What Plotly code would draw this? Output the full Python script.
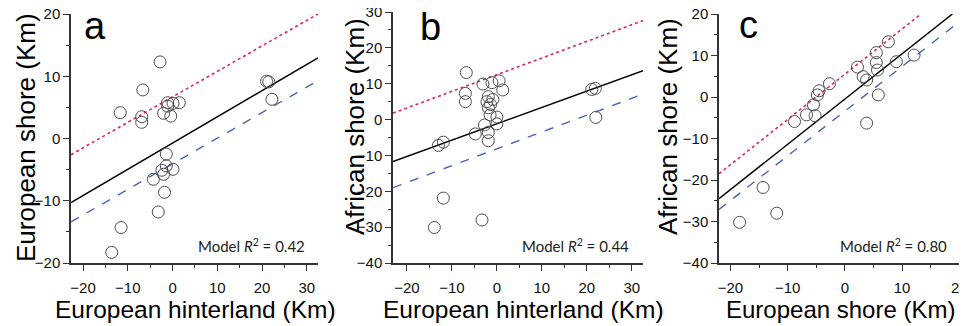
import plotly.graph_objects as go

# The page body keeps its default 8px margin, so the figure is sized to fill the
# rest of the 967x326 window and reference pixel positions are shifted by it.
OFF = 8
W, H = 967 - OFF, 326 - OFF

# ---------------- data ----------------
# Panel a: European hinterland (x) vs European shore (y)
a_x = [-2.8, -6.65, -11.7, -6.9, -6.9, -1.1, 0.1, 1.5, -1.1, -2.0, -0.4,
       -1.4, -1.4, 0.1, -2.4, -2.0, -4.3, -1.8, -3.2, -11.5, -13.6, 21.0, 21.5, 22.2]
a_y = [12.3, 7.8, 4.15, 3.5, 2.6, 5.75, 5.65, 5.75, 5.2, 4.05, 3.6,
       -2.5, -4.4, -4.95, -5.1, -5.75, -6.55, -8.65, -11.8, -14.3, -18.3, 9.2, 9.1, 6.3]
a_fit_x = [-22.7, 32.5]
a_fit_y = [-10.3, 12.95]
a_up_y = [-2.6, 20.0]
a_lo_y = [-13.4, 9.3]

# Panel b: European hinterland (x) vs African shore (y)
b_x = [-6.8, -7.0, -7.0, -3.1, -1.1, 0.5, 1.3, -1.9, -0.9, -2.2, -1.9, -1.5, -1.4,
       0.0, 0.0, -2.75, -4.8, -1.9, -1.9, -13.0, -11.9, -11.9, -13.9, -3.3, 21.1, 21.9, 22.0]
b_y = [13.1, 7.3, 5.0, 9.9, 10.3, 10.8, 8.25, 6.4, 5.6, 5.0, 3.3, 1.3, 4.2,
       0.7, -1.2, -1.5, -4.0, -3.6, -5.9, -7.2, -6.3, -21.9, -30.1, -28.0, 8.4, 8.7, 0.6]
b_fit_x = [-23.1, 32.5]
b_fit_y = [-11.7, 13.6]
b_up_y = [1.8, 27.6]
b_lo_y = [-19.0, 7.1]

# Panel c: European shore (x) vs African shore (y)
c_x = [-18.4, -14.3, -11.9, -8.8, -6.7, -5.2, -5.5, -4.8, -4.5, -2.7, 2.2, 3.2,
       3.8, 5.5, 5.5, 5.7, 5.85, 3.8, 7.6, 9.0, 12.1]
c_y = [-30.2, -21.8, -28.0, -5.9, -4.3, -4.5, -1.9, 0.5, 1.5, 3.2, 7.2, 4.9,
       4.1, 10.7, 8.3, 6.5, 0.5, -6.3, 13.3, 8.5, 10.1]
c_fit_x = [-22.0, 18.8]
c_fit_y = [-24.5, 20.0]
c_up_x = [-22.0, 13.3]
c_up_y = [-18.5, 20.0]
c_lo_x = [-22.0, 21.0]
c_lo_y = [-27.1, 19.2]

r2_labels = ["0.42", "0.44", "0.80"]
panel_letters = ["a", "b", "c"]
x_titles = ["European hinterland (Km)", "European hinterland (Km)", "European shore (Km)"]
y_titles = ["European shore (Km)", "African shore (Km)", "African shore (Km)"]

x_ranges = [[-22.7, 32.5], [-23.1, 32.5], [-22.0, 20.3]]
y_ranges = [[-20, 20], [-40, 30], [-40, 20]]
x_ticks = [[-20, -10, 0, 10, 20, 30], [-20, -10, 0, 10, 20, 30], [-20, -10, 0, 10, 20]]
y_ticks = [[-20, -10, 0, 10, 20], [-40, -30, -20, -10, 0, 10, 20, 30], [-40, -30, -20, -10, 0, 10, 20]]

# ---------------- layout helpers ----------------
def px_x(p):
    return (p - OFF) / W

def px_y(p):
    return 1 - (p - OFF) / H

x_domains = [[px_x(71), px_x(318)], [px_x(393), px_x(643)], [px_x(719), px_x(961)]]
y_domains = [[px_y(263), px_y(14)], [px_y(263), px_y(12)], [px_y(263), px_y(14)]]

TITLE_FONT = "Liberation Sans, Arial, sans-serif"
TICK_FONT = "Liberation Sans, Arial, sans-serif"
RED = "#e0245e"
BLUE = "#4a64b4"
MK = "#4d4d4d"

fig = go.Figure()

panels = [
    (a_x, a_y, a_fit_x, a_fit_y, a_fit_x, a_up_y, a_fit_x, a_lo_y),
    (b_x, b_y, b_fit_x, b_fit_y, b_fit_x, b_up_y, b_fit_x, b_lo_y),
    (c_x, c_y, c_fit_x, c_fit_y, c_up_x, c_up_y, c_lo_x, c_lo_y),
]

for i, (px_, py_, fx, fy, ux, uy, lx, ly) in enumerate(panels):
    xa = "x" if i == 0 else f"x{i+1}"
    ya = "y" if i == 0 else f"y{i+1}"
    fig.add_trace(go.Scatter(x=ux, y=uy, mode="lines", xaxis=xa, yaxis=ya,
                             line=dict(color=RED, width=1.6, dash="dot"), showlegend=False))
    fig.add_trace(go.Scatter(x=lx, y=ly, mode="lines", xaxis=xa, yaxis=ya,
                             line=dict(color=BLUE, width=1.4, dash="dash"), showlegend=False))
    fig.add_trace(go.Scatter(x=fx, y=fy, mode="lines", xaxis=xa, yaxis=ya,
                             line=dict(color="black", width=1.5), showlegend=False))
    fig.add_trace(go.Scatter(x=px_, y=py_, mode="markers", xaxis=xa, yaxis=ya,
                             marker=dict(symbol="circle-open", size=12, color=MK,
                                         line=dict(width=1, color=MK)),
                             showlegend=False))

axis_common = dict(showline=True, linecolor="#333", linewidth=1.5, showgrid=False,
                   zeroline=False, ticks="outside", ticklen=6, tickwidth=1.2,
                   tickcolor="#333", tickfont=dict(family=TICK_FONT, size=15, color="#111"),
                   minor=dict(ticks="outside", ticklen=3, tickwidth=1, tickcolor="#333", dtick=5),
                   fixedrange=True, automargin=False, ticklabeloverflow="allow")

for i in range(3):
    xk = "xaxis" if i == 0 else f"xaxis{i+1}"
    yk = "yaxis" if i == 0 else f"yaxis{i+1}"
    ya = "y" if i == 0 else f"y{i+1}"
    xa = "x" if i == 0 else f"x{i+1}"
    fig.update_layout(**{
        xk: dict(axis_common, domain=x_domains[i], range=x_ranges[i], anchor=ya,
                 tickvals=x_ticks[i], ticklabelstandoff=4),
        yk: dict(axis_common, domain=y_domains[i], range=y_ranges[i], anchor=xa,
                 tickvals=y_ticks[i]),
    })

ann = []
letter_pos = [(95, 26), (430, 27), (748, 25)]
r2_pos = [(251, 246), (575, 246), (893, 246)]
xt_pos = [(195, 309), (523, 309), (840, 309)]
xt_size = [24.5, 24.5, 24]
yt_pos = [(26, 138), (355, 127), (668, 127)]
for i in range(3):
    ann.append(dict(text=panel_letters[i], x=px_x(letter_pos[i][0]), y=px_y(letter_pos[i][1]),
                    xref="paper", yref="paper", showarrow=False, xanchor="center", yanchor="middle",
                    font=dict(family=TITLE_FONT, size=38, color="black")))
    ann.append(dict(text=f"Model <i>R</i><sup>2</sup> = {r2_labels[i]}",
                    x=px_x(r2_pos[i][0]), y=px_y(r2_pos[i][1]),
                    xref="paper", yref="paper", showarrow=False, xanchor="center", yanchor="middle",
                    font=dict(family="Lato, Open Sans, sans-serif", size=15, color="#222")))
    ann.append(dict(text=x_titles[i], x=px_x(xt_pos[i][0]), y=px_y(xt_pos[i][1]),
                    xref="paper", yref="paper", showarrow=False, xanchor="center", yanchor="middle",
                    font=dict(family=TITLE_FONT, size=xt_size[i], color="black")))
    ann.append(dict(text=y_titles[i], x=px_x(yt_pos[i][0]), y=px_y(yt_pos[i][1]),
                    xref="paper", yref="paper", showarrow=False, xanchor="center", yanchor="middle",
                    textangle=-90,
                    font=dict(family=TITLE_FONT, size=26, color="black")))

fig.update_layout(width=W, height=H, margin=dict(l=0, r=0, t=0, b=0, autoexpand=False),
                  paper_bgcolor="white", plot_bgcolor="white", annotations=ann)

fig.write_html("out.html")
